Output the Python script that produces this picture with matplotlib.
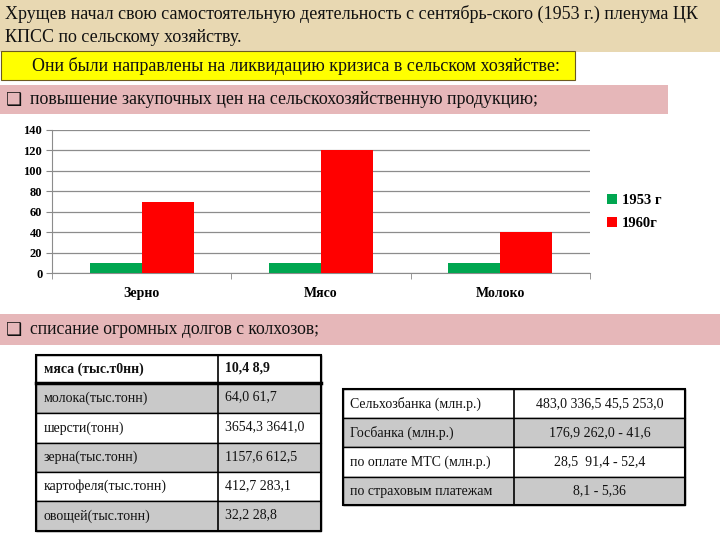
import matplotlib
matplotlib.use("Agg")
import matplotlib.pyplot as plt
from matplotlib.patches import Rectangle
import numpy as np

# ---------------- data ----------------
categories = ["Зерно", "Мясо", "Молоко"]
series_names = ["1953 г", "1960г"]
values_1953 = [10, 10, 10]
values_1960 = [70, 120, 40]
y_ticks = [0, 20, 40, 60, 80, 100, 120, 140]

title_lines = ["Хрущев начал свою самостоятельную деятельность с сентябрь-ского (1953 г.) пленума ЦК",
               "КПСС по сельскому хозяйству."]
yellow_text = "Они были направлены на ликвидацию кризиса в сельском хозяйстве:"
bullet1 = "повышение закупочных цен на сельскохозяйственную продукцию;"
bullet2 = "списание огромных долгов с колхозов;"

table1_labels = ["мяса (тыс.т0нн)", "молока(тыс.тонн)", "шерсти(тонн)", "зерна(тыс.тонн)",
                 "картофеля(тыс.тонн)", "овощей(тыс.тонн)"]
table1_values = ["10,4 8,9", "64,0 61,7", "3654,3 3641,0", "1157,6 612,5",
                 "412,7 283,1", "32,2 28,8"]
table2_labels = ["Сельхозбанка (млн.р.)", "Госбанка (млн.р.)", "по оплате МТС (млн.р.)",
                 "по страховым платежам"]
table2_values = ["483,0 336,5 45,5 253,0", "176,9 262,0 - 41,6", "28,5  91,4 - 52,4",
                 "8,1 - 5,36"]

SERIF = ["Liberation Serif", "DejaVu Serif"]
GREEN = "#00a650"
RED = "#ff0000"
PINK = "#e6b7b9"
GRAY = "#c9c9c9"
BEIGE = "#e8d8b2"

W, H = 720, 540
fig = plt.figure(figsize=(7.2, 5.4), dpi=100, facecolor="white")

# overlay axes in pixel coordinates (origin top-left)
bg = fig.add_axes([0, 0, 1, 1], zorder=0)
bg.set_xlim(0, W)
bg.set_ylim(H, 0)
bg.axis("off")

# beige header background
bg.add_patch(Rectangle((0, 0), W, 52, facecolor=BEIGE, edgecolor="none"))

bg.text(5, 14, title_lines[0], family=SERIF, fontsize=13.0, va="center", ha="left", color="#111")
bg.text(5, 38, title_lines[1], family=SERIF, fontsize=13.0, va="center", ha="left", color="#111")

# yellow box
bg.add_patch(Rectangle((1, 51), 574, 29, facecolor="#ffff00", edgecolor="#6b5a20", lw=0.8))
bg.text(296, 66, yellow_text, family=SERIF, fontsize=13.0, va="center", ha="center", color="#111")

# pink bands
bg.add_patch(Rectangle((0, 85), 668, 29, facecolor=PINK, edgecolor="none"))
bg.text(6, 100, "❑", family=["DejaVu Sans"], fontsize=13, va="center", ha="left",
        color="#111", fontweight="bold")
bg.text(30, 100, bullet1, family=SERIF, fontsize=12.9, va="center", ha="left", color="#111")

bg.add_patch(Rectangle((0, 314), W, 31, facecolor=PINK, edgecolor="none"))
bg.text(6, 330, "❑", family=["DejaVu Sans"], fontsize=13, va="center", ha="left",
        color="#111", fontweight="bold")
bg.text(30, 330, bullet2, family=SERIF, fontsize=12.7, va="center", ha="left", color="#111")

# table 1
t1_left, t1_split, t1_right = 36, 218, 321
t1_rows = [355, 383, 413, 443, 472, 501, 531]
for i, (lab, val) in enumerate(zip(table1_labels, table1_values)):
    y0, y1 = t1_rows[i], t1_rows[i + 1]
    fc = "white" if i % 2 == 0 else GRAY
    bg.add_patch(Rectangle((t1_left, y0), t1_right - t1_left, y1 - y0, facecolor=fc,
                           edgecolor="black", lw=1.0))
    fw = "bold" if i == 0 else "normal"
    bg.text(t1_left + 8, (y0 + y1) / 2, lab, family=SERIF, fontsize=10, va="center",
            ha="left", fontweight=fw, color="#111")
    bg.text(t1_split + 7, (y0 + y1) / 2 - 1, val, family=SERIF, fontsize=10, va="center",
            ha="left", fontweight=fw, color="#111")
bg.plot([t1_split, t1_split], [t1_rows[0], t1_rows[-1]], color="black", lw=1.2)
bg.plot([t1_left, t1_right], [t1_rows[1], t1_rows[1]], color="black", lw=2.5)
bg.add_patch(Rectangle((t1_left, t1_rows[0]), t1_right - t1_left, t1_rows[-1] - t1_rows[0],
                       facecolor="none", edgecolor="black", lw=1.5))

# table 2
t2_left, t2_split, t2_right = 343, 514, 685
t2_rows = [389, 418, 447, 477, 505]
for i, (lab, val) in enumerate(zip(table2_labels, table2_values)):
    y0, y1 = t2_rows[i], t2_rows[i + 1]
    fc = "white" if i % 2 == 0 else GRAY
    bg.add_patch(Rectangle((t2_left, y0), t2_right - t2_left, y1 - y0, facecolor=fc,
                           edgecolor="black", lw=1.0))
    bg.text(t2_left + 7, (y0 + y1) / 2, lab, family=SERIF, fontsize=10, va="center",
            ha="left", color="#111")
    bg.text((t2_split + t2_right) / 2, (y0 + y1) / 2, val, family=SERIF, fontsize=10,
            va="center", ha="center", color="#111")
bg.plot([t2_split, t2_split], [t2_rows[0], t2_rows[-1]], color="black", lw=1.2)
bg.add_patch(Rectangle((t2_left, t2_rows[0]), t2_right - t2_left, t2_rows[-1] - t2_rows[0],
                       facecolor="none", edgecolor="black", lw=1.5))

# ---------------- bar chart ----------------
ax_l, ax_r, ax_t, ax_b = 52, 590, 130, 273
ax = fig.add_axes([ax_l / W, 1 - ax_b / H, (ax_r - ax_l) / W, (ax_b - ax_t) / H], zorder=2)
ax.set_facecolor("none")
x = np.arange(len(categories))
bw = 0.29
ax.bar(x - bw / 2, values_1953, width=bw, color=GREEN, label=series_names[0], zorder=3)
ax.bar(x + bw / 2, values_1960, width=bw, color=RED, label=series_names[1], zorder=3)
ax.set_xlim(-0.5, len(categories) - 0.5)
ax.set_ylim(0, 140)
ax.set_yticks(y_ticks)
ax.set_yticklabels([str(v) for v in y_ticks], family=SERIF, fontsize=9, fontweight="bold")
ax.set_xticks(x)
ax.set_xticklabels(categories, family=SERIF, fontsize=10, fontweight="bold")
ax.set_xticks(np.arange(-0.5, len(categories)), minor=True)
ax.tick_params(axis="x", which="major", length=0, pad=10)
ax.tick_params(axis="x", which="minor", length=4, color="#888", direction="out")
ax.tick_params(axis="y", length=4, color="#888", pad=3)
ax.yaxis.grid(True, color="#8c8c8c", lw=0.9, zorder=0)
ax.set_axisbelow(True)
for s in ["top", "right"]:
    ax.spines[s].set_visible(False)
for s in ["left", "bottom"]:
    ax.spines[s].set_color("#8c8c8c")

leg = ax.legend(loc="upper left", bbox_to_anchor=(594 / W, 1 - 181 / H),
                bbox_transform=fig.transFigure, frameon=False, handlelength=0.7,
                handleheight=0.7, handletextpad=0.3, labelspacing=0.65,
                prop={"family": SERIF, "size": 10.5, "weight": "bold"})

fig.savefig("out.png", dpi=100, facecolor="white")
